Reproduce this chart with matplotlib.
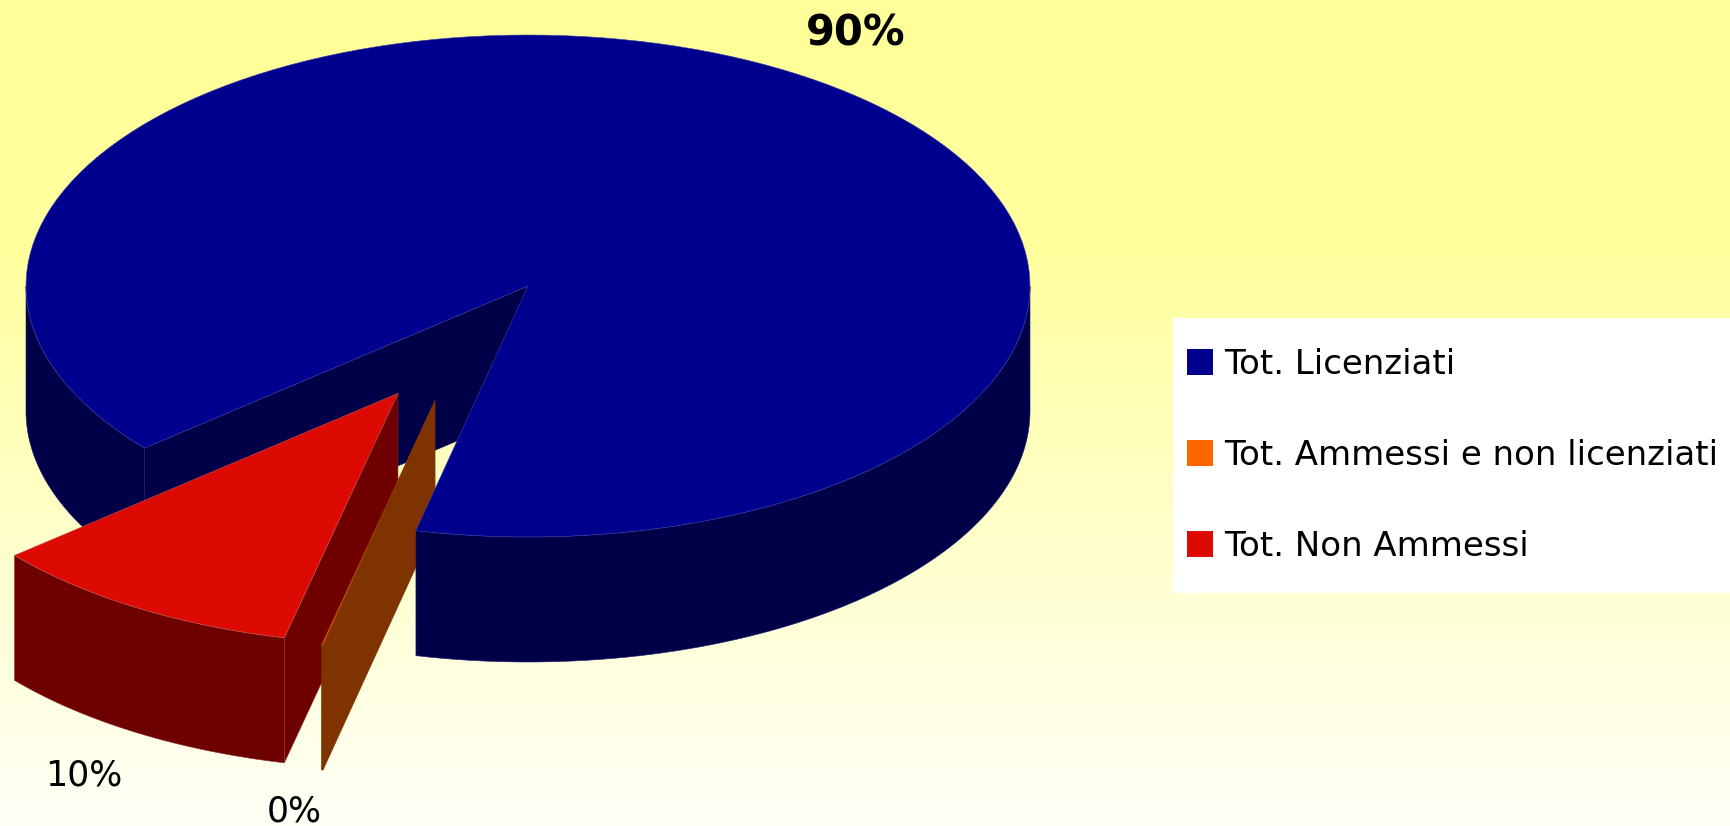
import numpy as np
import matplotlib
matplotlib.use('Agg')
import matplotlib.pyplot as plt
from matplotlib.patches import Patch, Polygon, Rectangle

categories = ['Tot. Licenziati', 'Tot. Ammessi e non licenziati', 'Tot. Non Ammessi']
values = [89.75, 0.05, 10.2]
pct_labels = ['90%', '0%', '10%']
top_colors = ['#00008F', '#FF6600', '#DD0A04']
side_colors = ['#000048', '#7F3300', '#6E0000']
top_edges = ['#3A3AA8', '#7F3300', '#C05A50']
side_edges = ['#1C1C70', '#7F3300', '#8A3030']

# pie geometry in pixels
W, H = 1731, 826
cx, cy = 528, 286
rx, ry = 502, 251
depth = 125
first_angle = 220.2

# exploded slices: distance (fraction of radius) and direction in degrees
explode = [0.0, 0.492, 0.5]
explode_dir = [0.0, 247.9, 238.8]


def rim(a0, a1, ox, oy, n=150):
    t = np.radians(np.linspace(a0, a1, n))
    return np.column_stack([ox + rx * np.cos(t), oy - ry * np.sin(t)])


def wall(pts, **kw):
    # extrude a top outline downward
    low = pts[::-1] + [0, depth]
    return Polygon(np.vstack([pts, low]), closed=True, **kw)


fig = plt.figure(figsize=(W / 100, H / 100), dpi=100)
ax = fig.add_axes([0, 0, 1, 1])
ax.set_xlim(0, W)
ax.set_ylim(H, 0)
ax.axis('off')

# background gradient, yellow to nearly white
ys = np.linspace(0, 1, 400)
g = np.column_stack([
    np.ones(400),
    np.ones(400),
    np.interp(ys, [0, 0.3, 1], [0.6, 0.62, 0.97]),
])
ax.imshow(g[:, None, :], extent=[0, W, H, 0], aspect='auto', zorder=0)

# slice angles, clockwise from the first one
spans = np.array(values) / sum(values) * 360
ends = first_angle - np.cumsum(spans)
starts = np.r_[first_angle, ends[:-1]]

# draw order: blue back parts, red, orange, then blue front wall and top over them
layers = {0: (2, 9, 10), 2: (3, 4, 5), 1: (6, 7, 8)}

for i in range(3):
    a0, a1 = ends[i], starts[i]  # counter clockwise from a0 to a1
    d = np.radians(explode_dir[i])
    ox = cx + explode[i] * rx * np.cos(d)
    oy = cy - explode[i] * ry * np.sin(d)
    apex = np.array([[ox, oy]])
    style = dict(fc=side_colors[i], ec=side_edges[i], lw=0.4)
    z_cut, z_wall, z_top = layers[i]

    # outer wall, only the front half of the rim shows
    for lo, hi, z in [(-180, 0, z_wall), (180, 360, 1)]:
        b0, b1 = max(a0, lo), min(a1, hi)
        if b1 > b0:
            ax.add_patch(wall(rim(b0, b1, ox, oy), zorder=z, **style))

    # flat cut wall that faces the viewer
    cut_wall = np.vstack([apex, rim(a1, a1, ox, oy, 2)[:1]])
    ax.add_patch(wall(cut_wall, zorder=z_cut, **style))

    # top face
    outline = np.vstack([apex, rim(a0, a1, ox, oy)])
    ax.add_patch(Polygon(outline, closed=True, fc=top_colors[i], ec=top_edges[i], lw=0.4, zorder=z_top))

ax.text(856, 33, pct_labels[0], ha='center', va='center', fontsize=30, fontweight='bold',
        family='DejaVu Sans', color='black', zorder=20)
ax.text(294, 812, pct_labels[1], ha='center', va='center', fontsize=25, family='DejaVu Sans',
        color='black', zorder=20)
ax.text(84, 775, pct_labels[2], ha='center', va='center', fontsize=25, family='DejaVu Sans',
        color='black', zorder=20)

# white legend panel runs off the right side
ax.add_patch(Rectangle((1173, 318), W - 1173, 275, fc='white', ec='none', zorder=15))
handles = [Patch(fc=c, ec='none') for c in top_colors]
leg = ax.legend(handles, categories, loc='upper left', bbox_to_anchor=(1187 / W, 1 - 348 / H),
                borderaxespad=0, borderpad=0, frameon=False, prop={'family': 'DejaVu Sans', 'size': 24.5},
                handlelength=0.75, handleheight=0.82, handletextpad=0.35, labelspacing=1.7)
leg.set_zorder(16)

fig.savefig('out.png', dpi=100)
